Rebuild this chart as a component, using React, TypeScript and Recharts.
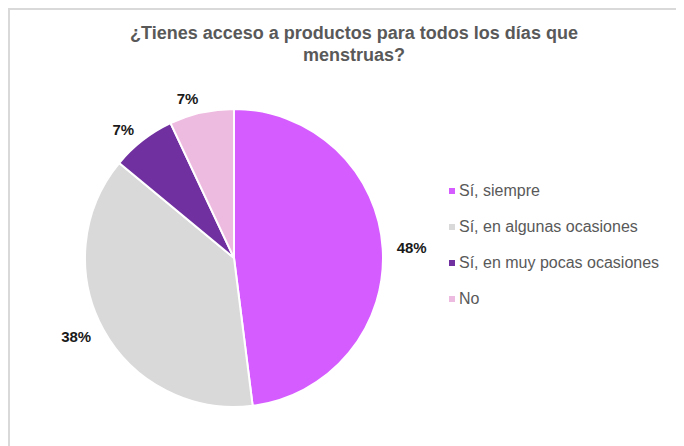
import React from "react";
import { PieChart, Pie, Cell, Legend } from "recharts";

const categories = ["Sí, siempre", "Sí, en algunas ocasiones", "Sí, en muy pocas ocasiones", "No"];
const values = [48, 38, 7, 7];
const colors = ["#D55CFF", "#D9D9D9", "#7030A0", "#EEBBE0"];
const title = "¿Tienes acceso a productos para todos los días que menstruas?";

const data = categories.map((name, i) => ({ name, value: values[i] }));
const RADIAN = Math.PI / 180;
const FONT = '"Liberation Sans", Arial, sans-serif';

const renderLabel = (props: any) => {
  const { cx, cy, midAngle, outerRadius, value } = props;
  const r = outerRadius + 14;
  const cos = Math.cos(-midAngle * RADIAN);
  const sin = Math.sin(-midAngle * RADIAN);
  const x = cx + r * cos;
  const y = cy + r * sin;
  const anchor = cos >= 0 ? "start" : "end";
  return (
    <text x={x} y={y} textAnchor={anchor} dominantBaseline="central" fill="#1a1a1a" fontSize={15} fontWeight="bold" fontFamily={FONT}>
      {`${value}%`}
    </text>
  );
};

const renderLegend = () => (
  <ul style={{ listStyle: "none", margin: 0, padding: 0, fontFamily: FONT }}>
    {data.map((d, i) => (
      <li key={d.name} style={{ height: 36, display: "flex", alignItems: "center", fontSize: 16, color: "#595959" }}>
        <span style={{ display: "inline-block", width: 6, height: 6, background: colors[i], marginRight: 4 }} />
        {d.name}
      </li>
    ))}
  </ul>
);

export default function App() {
  return (
    <div style={{ position: "relative", width: 676, height: 436, borderTop: "2px solid #D9D9D9", borderLeft: "2px solid #D9D9D9", background: "#fff" }}>
      <div style={{ position: "absolute", left: 99, top: 12, width: 490, textAlign: "center", fontFamily: FONT, fontWeight: "bold", fontSize: 18, lineHeight: "22px", color: "#595959" }}>
        {title}
      </div>
      <PieChart width={676} height={436} margin={{ top: 0, right: 0, bottom: 0, left: 0 }}>
        <Pie
          data={data}
          dataKey="value"
          nameKey="name"
          cx={224}
          cy={248}
          outerRadius={149}
          startAngle={90}
          endAngle={-270}
          stroke="#FFFFFF"
          strokeWidth={2}
          label={renderLabel}
          labelLine={false}
          isAnimationActive={false}
        >
          {data.map((d, i) => (
            <Cell key={d.name} fill={colors[i]} />
          ))}
        </Pie>
        <Legend content={renderLegend} wrapperStyle={{ left: 439, top: 163, width: 230 }} />
      </PieChart>
    </div>
  );
}
